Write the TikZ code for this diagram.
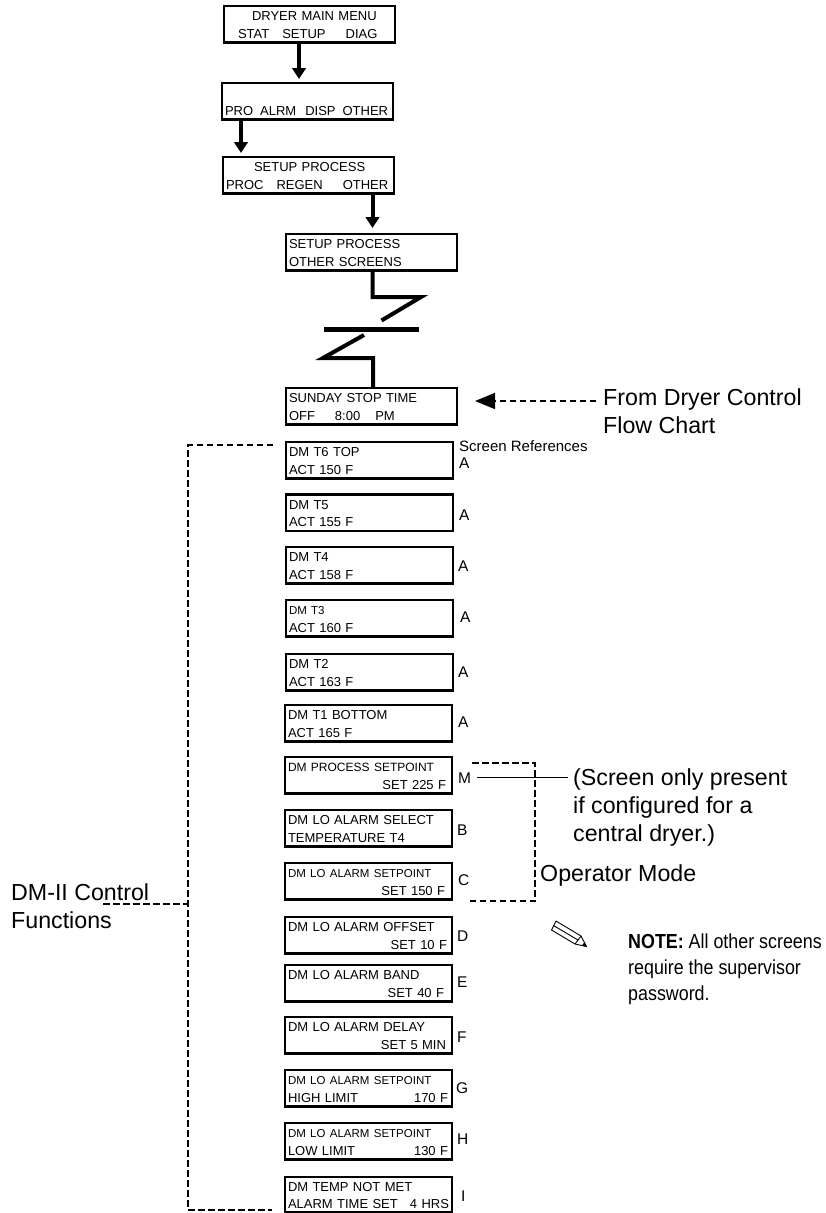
\documentclass[tikz,border=0pt]{standalone}
\usepackage{fontspec}
\setmainfont{Liberation Sans}
\newfontfamily\notefont[FakeStretch=0.88]{Liberation Sans}
\usetikzlibrary{arrows.meta, positioning, calc}
\newcommand{\smline}[1]{{\fontsize{11.5}{17.5}\selectfont #1}}
\newcommand{\fullline}[1]{\hbox to \hsize{#1}}
\tikzset{
  lcdbox/.style={draw, line width=2.2pt, anchor=north west, inner xsep=3pt, inner ysep=0pt, outer sep=0pt,
    minimum width=167pt, minimum height=36.5pt, text width=161pt, align=left,
    execute at begin node={\rule{0pt}{11pt}},
    font=\fontsize{13}{17.5}\selectfont},
  widebox/.style={lcdbox, minimum width=171pt, text width=165pt},
  reflabel/.style={anchor=west, inner sep=0pt, font=\fontsize{15.5}{18}\selectfont},
  biglabel/.style={anchor=west, inner sep=0pt, align=left, font=\fontsize{23.2}{28}\selectfont},
  flowline/.style={line width=4pt, -{Triangle[length=11pt,width=13.5pt]}},
  breakline/.style={line width=4pt, miter limit=10},
  dashline/.style={line width=1.5pt, dash pattern=on 6.5pt off 3.5pt},
}
\begin{document}
\begin{tikzpicture}[x=1pt, y=-1pt]
  \useasboundingbox (0,0) rectangle (826,1213);

  \node[widebox] (mainmenu) at (224,6) {\hspace*{25pt}DRYER MAIN MENU\\\hspace*{11pt}STAT\hspace{13pt}SETUP\hspace{20pt}DIAG};
  \node[widebox] (setupmenu) at (222,83) {\mbox{}\\PRO\hspace{7pt}ALRM\hspace{9pt}DISP\hspace{7pt}OTHER};
  \node[widebox] (process) at (223,157) {\hspace*{28pt}SETUP PROCESS\\PROC\hspace{13pt}REGEN\hspace{20pt}OTHER};
  \node[widebox] (other) at (286,234) {SETUP PROCESS\\OTHER SCREENS};
  \node[widebox] (sunday) at (286,388) {SUNDAY STOP TIME\\OFF\hspace{20pt}8:00\hspace{15pt}PM};

  \node[lcdbox] (tsix) at (286,442) {DM T6 TOP\\ACT 150 F};
  \node[lcdbox] (tfive) at (286,494.5) {DM T5\\ACT 155 F};
  \node[lcdbox] (tfour) at (286,547) {DM T4\\ACT 158 F};
  \node[lcdbox] (tthree) at (286,600) {\smline{DM T3}\\ACT 160 F};
  \node[lcdbox] (ttwo) at (286,654) {DM T2\\ACT 163 F};
  \node[lcdbox] (tone) at (285,705) {DM T1 BOTTOM\\ACT 165 F};
  \node[lcdbox] (procset) at (285,757) {{\fontsize{12}{17.5}\selectfont DM PROCESS SETPOINT}\\\fullline{\hfill SET 225 F\hspace{3pt}}};
  \node[lcdbox] (loselect) at (285,810) {DM LO ALARM SELECT\\TEMPERATURE T4};
  \node[lcdbox] (loset) at (285,863) {\smline{DM LO ALARM SETPOINT}\\\fullline{\hfill SET 150 F\hspace{4pt}}};
  \node[lcdbox] (looffset) at (285,917) {DM LO ALARM OFFSET\\\fullline{\hfill SET 10 F\hspace{2pt}}};
  \node[lcdbox] (loband) at (285,965) {DM LO ALARM BAND\\\fullline{\hfill SET 40 F\hspace{5pt}}};
  \node[lcdbox] (lodelay) at (285,1017) {DM LO ALARM DELAY\\\fullline{\hfill SET 5 MIN\hspace{3pt}}};
  \node[lcdbox] (hilimit) at (285,1070) {\smline{DM LO ALARM SETPOINT}\\\fullline{HIGH LIMIT\hfill 170 F\hspace{1pt}}};
  \node[lcdbox] (lolimit) at (285,1123) {\smline{DM LO ALARM SETPOINT}\\\fullline{LOW LIMIT\hfill 130 F\hspace{1pt}}};
  \node[lcdbox, minimum height=35.5pt] (notmet) at (285,1177) {DM TEMP NOT MET\\\fullline{ALARM TIME SET\hfill 4 HRS\hspace{0pt}}};

  \node[reflabel, font=\fontsize{15}{18}\selectfont] (screenref) at (459,446) {Screen References};
  \node[reflabel] (refsix) at (459,463) {A};
  \node[reflabel] (reffive) at (459,515) {A};
  \node[reflabel] (reffour) at (458,566) {A};
  \node[reflabel] (refthree) at (460,617) {A};
  \node[reflabel] (reftwo) at (458,672.5) {A};
  \node[reflabel] (refone) at (458,722) {A};
  \node[reflabel] (refm) at (458,778) {M};
  \node[reflabel] (refb) at (457,830) {B};
  \node[reflabel] (refc) at (458,880) {C};
  \node[reflabel] (refd) at (457,936) {D};
  \node[reflabel] (refe) at (457,982) {E};
  \node[reflabel] (reff) at (457,1037) {F};
  \node[reflabel] (refg) at (456,1088) {G};
  \node[reflabel] (refh) at (457,1139) {H};
  \node[reflabel] (refi) at (461,1196) {I};

  \node[biglabel] (fromchart) at (603,411) {From Dryer Control\\Flow Chart};
  \node[biglabel] (screenonly) at (573,807) {(Screen only present\\if configured for a\\central dryer.)};
  \node[biglabel] (opmode) at (540,875) {Operator Mode};
  \node[biglabel] (controlfn) at (11,906) {DM-II Control\\Functions};
  \node[anchor=north west, inner sep=0pt, align=left, font=\fontsize{20.3}{26}\selectfont\notefont] (note) at (628,934) {\textbf{NOTE:} All other screens\\require the supervisor\\password.};

  \coordinate (tipa) at (299,79);
  \coordinate (tipb) at (241,153);
  \coordinate (tipc) at (372.5,228);
  \draw[flowline] (mainmenu.south -| tipa) -- (tipa);
  \draw[flowline] (setupmenu.south -| tipb) -- (tipb);
  \draw[flowline] (process.south -| tipc) -- (tipc);

  \draw[breakline] (other.south -| tipc) -- (372.5,297) -- (421,297) -- (381.5,320.5);
  \draw[line width=5pt] (324,329.5) -- (419,329.5);
  \draw[breakline] (364,335) -- (323,358) -- (373,358) -- (373,388);

  \coordinate (tipfrom) at (475,401);
  \draw[dashline, -{Triangle[length=20pt,width=16pt]}] (596,401) -- (tipfrom);

  \coordinate (brtop) at (273,445);
  \coordinate (brbot) at (272,1210);
  \coordinate (brmid) at (188,904);
  \draw[dashline] (brtop) -- (188,445) -- (188,1210) -- (brbot);
  \draw[dashline] (103,904) -- (brmid);

  \coordinate (optop) at (472,763);
  \coordinate (opbot) at (470,901);
  \draw[dashline] (optop) -- (535,763) -- (535,901) -- (opbot);
  \draw[line width=1.5pt] (477,777.5) -- (568,777.5);

  \draw[line width=0.9pt, line join=round] (556,921) -- (551.5,930) -- (575,944) -- (586.5,946.5) -- (581,936) -- cycle;
  \draw[line width=0.9pt] (575,944) -- (581,936) (553.5,925.5) -- (578,940);
  \fill (586.5,946.5) -- (582,945.5) -- (584.5,942) -- cycle;
\end{tikzpicture}
\end{document}
